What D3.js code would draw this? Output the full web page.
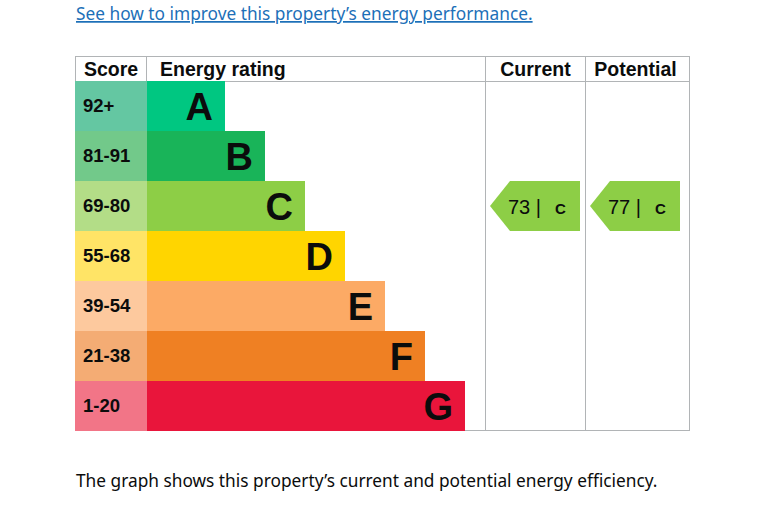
<!DOCTYPE html>
<html>
<head>
<meta charset="utf-8">
<script src="https://cdn.jsdelivr.net/npm/d3@7"></script>
<style>
  html, body { margin: 0; padding: 0; background: #fff; }
  svg { display: block; }
</style>
</head>
<body>
<div id="chart"></div>
<script>
"use strict"

// Bands, top to bottom
const bands = ["A", "B", "C", "D", "E", "F", "G"];
const scoreRanges = ["92+", "81-91", "69-80", "55-68", "39-54", "21-38", "1-20"];
const minScores = [92, 81, 69, 55, 39, 21, 1];
const bandColors = ["#00c781", "#19b459", "#8dce46", "#ffd500", "#fcaa65", "#ef8023", "#e9153b"];
const scoreColors = ["#64c7a2", "#72c98a", "#b3dd87", "#ffe466", "#fdc99e", "#f4ac74", "#f27587"];

const columns = ["Current", "Potential"];
const ratings = [73, 77];

const W = 770, H = 521;
const tLeft = 75, tRight = 690, tTop = 56, headH = 25, rowH = 50;
const scoreW = 72, colW = 100, colStart = 485;
const lineColor = "#b1b4b6";
const boldFont = "'Liberation Sans', Arial, sans-serif";
const textFont = "'Noto Sans', sans-serif";

function bandFor(score) {
  let i = minScores.findIndex((m) => score >= m);
  return bands[i < 0 ? bands.length - 1 : i];
}

let svg = (
  d3.select("#chart")
    .append("svg")
    .attr("width", W)
    .attr("height", H));

let y = d3.scaleBand()
  .domain(bands)
  .range([tTop + headH, tTop + headH + rowH * bands.length]);

let barStart = tLeft + scoreW;
let barLen = d3.scaleLinear()
  .domain([0, bands.length - 1])
  .range([78, 318]);

let colX = d3.scaleBand()
  .domain(columns)
  .range([colStart, colStart + colW * columns.length]);

// Link at top
(svg.append("text")
  .attr("x", 76)
  .attr("y", 20)
  .attr("style", `font: 17.3px ${textFont}; fill: #1d70b8; text-decoration: underline`)
  .text("See how to improve this property\u2019s energy performance."));

// Grid lines
let g = svg.append("g").attr("stroke", lineColor).attr("stroke-width", 1).attr("fill", "none");
g.append("rect")
  .attr("x", tLeft + 0.5).attr("y", tTop + 0.5)
  .attr("width", tRight - tLeft - 1).attr("height", headH + rowH * bands.length - 1);
g.append("line")
  .attr("x1", tLeft).attr("x2", tRight)
  .attr("y1", tTop + headH + 0.5).attr("y2", tTop + headH + 0.5);
g.append("line")
  .attr("x1", barStart - 0.5).attr("x2", barStart - 0.5)
  .attr("y1", tTop).attr("y2", tTop + headH);
(g.selectAll("line.col")
    .data(columns)
  .enter()
    .append("line")
      .attr("class", "col")
      .attr("x1", (d) => colX(d) + 0.5)
      .attr("x2", (d) => colX(d) + 0.5)
      .attr("y1", tTop)
      .attr("y2", tTop + headH + rowH * bands.length));

// Header
const headStyle = `font: bold 19.5px ${boldFont}; fill: #0b0c0c`;
svg.append("text").attr("x", 84).attr("y", tTop + 20).attr("style", headStyle).text("Score");
svg.append("text").attr("x", barStart + 13).attr("y", tTop + 20).attr("style", headStyle).text("Energy rating");
(svg.selectAll("text.colhead")
    .data(columns)
  .enter()
    .append("text")
      .attr("class", "colhead")
      .attr("x", (d) => colX(d) + colW / 2 + 0.5)
      .attr("y", tTop + 20)
      .attr("text-anchor", "middle")
      .attr("style", headStyle)
      .text((d) => d));

// Score cells
(svg.selectAll("rect.score")
    .data(bands)
  .enter()
    .append("rect")
      .attr("class", "score")
      .attr("x", tLeft)
      .attr("y", (d) => y(d))
      .attr("width", scoreW)
      .attr("height", y.bandwidth())
      .attr("fill", (d, i) => scoreColors[i]));

(svg.selectAll("text.score")
    .data(bands)
  .enter()
    .append("text")
      .attr("class", "score")
      .attr("x", tLeft + 8)
      .attr("y", (d) => y(d) + y.bandwidth() / 2 + 6)
      .attr("style", `font: bold 18.5px ${boldFont}; fill: #0b0c0c`)
      .text((d, i) => scoreRanges[i]));

// Bars
(svg.selectAll("rect.bar")
    .data(bands)
  .enter()
    .append("rect")
      .attr("class", "bar")
      .attr("x", barStart)
      .attr("y", (d) => y(d))
      .attr("width", (d, i) => barLen(i))
      .attr("height", y.bandwidth())
      .attr("fill", (d, i) => bandColors[i]));

(svg.selectAll("text.bar")
    .data(bands)
  .enter()
    .append("text")
      .attr("class", "bar")
      .attr("x", (d, i) => barStart + barLen(i) - 12)
      .attr("y", (d) => y(d) + y.bandwidth() / 2 + 13.5)
      .attr("text-anchor", "end")
      .attr("style", `font: bold 38px ${boldFont}; fill: #0b0c0c`)
      .text((d) => d));

// Rating arrows
let arrows = (svg.selectAll("g.arrow")
    .data(columns)
  .enter()
    .append("g")
      .attr("class", "arrow")
      .attr("transform", (d, i) => `translate(${colX(d) + 5},${y(bandFor(ratings[i]))})`));

(arrows.append("path")
  .attr("d", (d) => `M0,${rowH / 2} L20,0 L90,0 L90,${rowH} L20,${rowH} Z`)
  .attr("fill", (d, i) => bandColors[bands.indexOf(bandFor(ratings[i]))]));

let labels = (arrows.append("text")
  .attr("x", 18)
  .attr("y", rowH / 2 + 7.5)
  .attr("style", `font: 20px ${boldFont}; fill: #0b0c0c`));
labels.append("tspan").text((d, i) => `${ratings[i]} |`);
(labels.append("tspan")
  .attr("dx", 14)
  .attr("style", `font: bold 15px ${boldFont}`)
  .text((d, i) => bandFor(ratings[i])));

// Footnote
(svg.append("text")
  .attr("x", 76)
  .attr("y", 487)
  .attr("style", `font: 17.3px ${textFont}; fill: #0b0c0c`)
  .text("The graph shows this property\u2019s current and potential energy efficiency."));
</script>
</body>
</html>
